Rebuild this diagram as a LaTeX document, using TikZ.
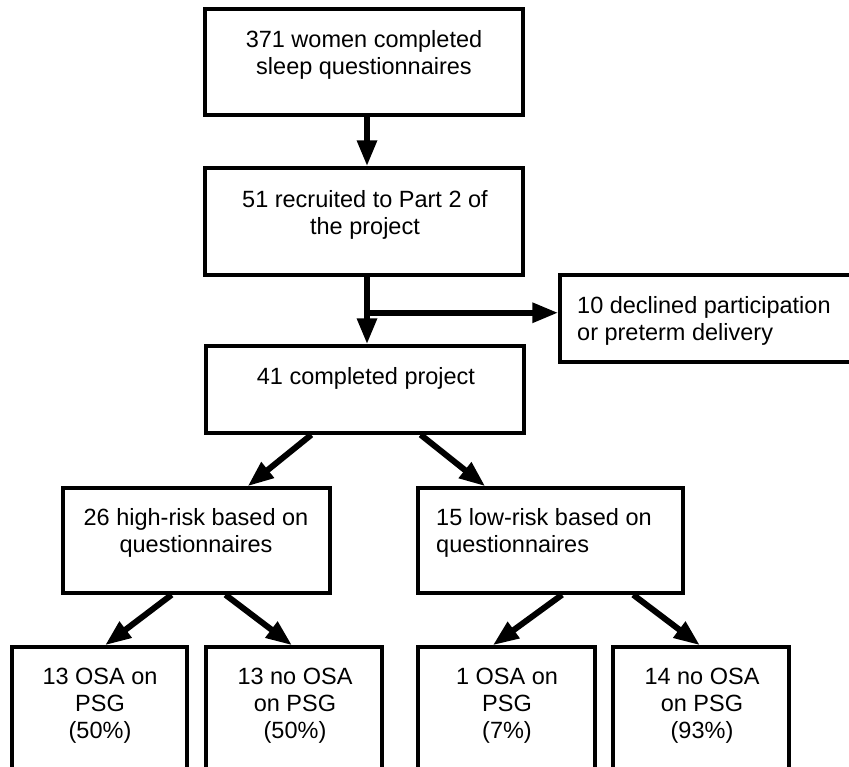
\documentclass[tikz,border=0pt]{standalone}
\usepackage{fontspec}
\setmainfont{Liberation Sans}
\usetikzlibrary{arrows.meta,calc}
\begin{document}
\begin{tikzpicture}[x=1pt,y=-1pt,
  box/.style={draw=black,line width=3.5pt,fill=white,inner sep=0pt,rectangle},
  txt/.style={inner sep=0pt,font=\fontsize{23.5}{27}\selectfont},
  arr/.style={line width=6pt,-{Triangle[length=26pt,width=19pt]}}]
\useasboundingbox (0,0) rectangle (849,766);
\clip (0,0) rectangle (849,766);
\fill[white] (0,0) rectangle (849,766);
% boxes
\node[box,minimum width=318pt,minimum height=106pt] (b1) at (364,62) {};
\node[box,minimum width=318pt,minimum height=107pt] (b2) at (364,221.5) {};
\node[box,minimum width=320pt,minimum height=87pt] (b4) at (720,318.5) {};
\node[box,minimum width=318pt,minimum height=87pt] (b3) at (365,389.5) {};
\node[box,minimum width=267pt,minimum height=105pt] (b5) at (196.5,540.5) {};
\node[box,minimum width=265pt,minimum height=105pt] (b6) at (550.5,540.5) {};
\node[box,minimum width=175pt,minimum height=160pt] (c1) at (99.5,727) {};
\node[box,minimum width=176pt,minimum height=160pt] (c2) at (294,727) {};
\node[box,minimum width=177pt,minimum height=160pt] (c3) at (506.5,727) {};
\node[box,minimum width=176pt,minimum height=160pt] (c4) at (701,727) {};
% texts
\node[txt,align=center] (t1) at (364,55) {371 women completed\\sleep questionnaires};
\node[txt,align=center] (t2) at (365,215) {51 recruited to Part 2 of\\the project};
\node[txt,align=left,anchor=west] (t4) at (577,321) {10 declined participation\\or preterm delivery};
\node[txt,align=center] (t3) at (366,378) {41 completed project};
\node[txt,align=center] (t5) at (196,533) {26 high-risk based on\\questionnaires};
\node[txt,align=left,anchor=west] (t6) at (436,533) {15 low-risk based on\\questionnaires};
\node[txt,align=center] (u1) at (100,705.5) {13 OSA on\\PSG\\(50\%)};
\node[txt,align=center] (u2) at (295,705.5) {13 no OSA\\on PSG\\(50\%)};
\node[txt,align=center] (u3) at (507,705.5) {1 OSA on\\PSG\\(7\%)};
\node[txt,align=center] (u4) at (702,705.5) {14 no OSA\\on PSG\\(93\%)};
% connectors
\draw[arr] ($(b1.south)+(3,0)$) -- ($(b2.north)+(3,0)$);
\draw[arr] ($(b2.south)+(3,0)$) -- ($(b3.north)+(2,0)$);
\coordinate (j) at ($(b2.south)+(3,36)$);
\draw[arr] (j) -- (j -| b4.west);
\draw[arr] ($(b3.south west)!0.333!(b3.south east)$) -- ($(b5.north west)!0.689!(b5.north east)$);
\draw[arr] ($(b3.south west)!0.673!(b3.south east)$) -- ($(b6.north west)!0.257!(b6.north east)$);
\draw[arr] ($(b5.south west)!0.408!(b5.south east)$) -- ($(c1.north west)!0.531!(c1.north east)$);
\draw[arr] ($(b5.south west)!0.607!(b5.south east)$) -- ($(c2.north west)!0.489!(c2.north east)$);
\draw[arr] ($(b6.south west)!0.543!(b6.south east)$) -- ($(c3.north west)!0.424!(c3.north east)$);
\draw[arr] ($(b6.south west)!0.808!(b6.south east)$) -- ($(c4.north west)!0.494!(c4.north east)$);
\end{tikzpicture}
\end{document}
